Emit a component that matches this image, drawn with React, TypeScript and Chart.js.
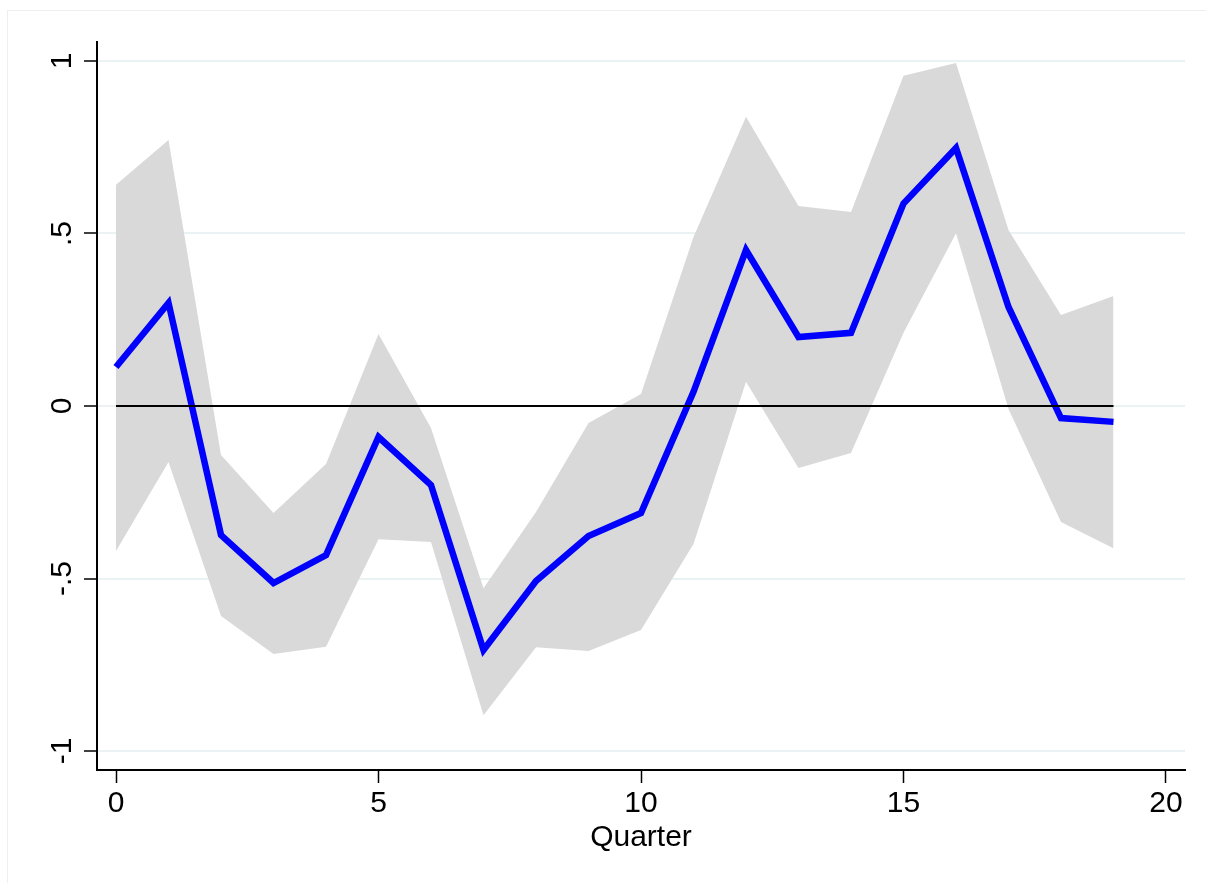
import React, { useEffect, useRef } from 'react';
import { Chart, registerables } from 'chart.js';

Chart.register(...registerables);

// quarter index
const QUARTERS = [0, 1, 2, 3, 4, 5, 6, 7, 8, 9, 10, 11, 12, 13, 14, 15, 16, 17, 18, 19];
// point estimate (blue line)
const ESTIMATE = [0.113, 0.299, -0.374, -0.513, -0.432, -0.090, -0.229, -0.707, -0.507, -0.377, -0.310, 0.041, 0.452, 0.200, 0.212, 0.587, 0.748, 0.287, -0.035, -0.046];
// confidence band
const UPPER = [0.641, 0.771, -0.142, -0.310, -0.168, 0.209, -0.064, -0.528, -0.307, -0.049, 0.035, 0.490, 0.838, 0.580, 0.562, 0.957, 0.994, 0.510, 0.264, 0.319];
const LOWER = [-0.420, -0.162, -0.609, -0.719, -0.698, -0.386, -0.394, -0.896, -0.699, -0.710, -0.649, -0.400, 0.070, -0.180, -0.136, 0.212, 0.501, -0.009, -0.336, -0.412];

const X_TICKS = [0, 5, 10, 15, 20];
const Y_TICKS = [-1, -0.5, 0, 0.5, 1];
const Y_LABELS = ['-1', '-.5', '0', '.5', '1'];

const FONT = '"Liberation Sans", Arial, Helvetica, sans-serif';
const FONT_SIZE = 30;

const yLabelPlugin = {
    id: 'yLabels',
    afterDraw(chart: Chart) {
        const { ctx } = chart;
        const y = chart.scales.y;
        ctx.save();
        ctx.fillStyle = '#000';
        ctx.font = `${FONT_SIZE}px ${FONT}`;
        ctx.textAlign = 'center';
        ctx.textBaseline = 'alphabetic';
        Y_TICKS.forEach((v, i) => {
            const py = y.getPixelForValue(v);
            ctx.save();
            ctx.translate(71, py);
            ctx.rotate(-Math.PI / 2);
            ctx.fillText(Y_LABELS[i], 0, 0);
            ctx.restore();
        });
        ctx.restore();
    }
};

export default function App() {
    const chartRef = useRef<HTMLCanvasElement>(null);
    const chartInstance = useRef<Chart | null>(null);

    useEffect(() => {
        if (chartInstance.current) chartInstance.current.destroy();
        if (!chartRef.current) return;
        const ctx = chartRef.current.getContext('2d');
        if (!ctx) return;

        const pts = (arr: number[]) => QUARTERS.map((q, i) => ({ x: q, y: arr[i] }));

        chartInstance.current = new Chart(ctx, {
            type: 'line',
            data: {
                datasets: [
                    {
                        label: 'zero',
                        data: [{ x: QUARTERS[0], y: 0 }, { x: QUARTERS[QUARTERS.length - 1], y: 0 }],
                        borderColor: '#000',
                        borderWidth: 2,
                        pointRadius: 0,
                        fill: false,
                        order: 0,
                    },
                    {
                        label: 'estimate',
                        data: pts(ESTIMATE),
                        borderColor: '#0000ff',
                        borderWidth: 6.5,
                        borderJoinStyle: 'miter',
                        borderCapStyle: 'butt',
                        pointRadius: 0,
                        tension: 0,
                        fill: false,
                        order: 1,
                    },
                    {
                        label: 'upper',
                        data: pts(UPPER),
                        borderWidth: 0,
                        borderColor: 'rgba(0,0,0,0)',
                        backgroundColor: '#d9d9d9',
                        pointRadius: 0,
                        tension: 0,
                        fill: '+1',
                        order: 3,
                    },
                    {
                        label: 'lower',
                        data: pts(LOWER),
                        borderWidth: 0,
                        borderColor: 'rgba(0,0,0,0)',
                        pointRadius: 0,
                        tension: 0,
                        fill: false,
                        order: 4,
                    },
                ]
            },
            options: {
                responsive: false,
                animation: false,
                layout: { padding: { top: 42, right: 21, left: 0, bottom: 0 } },
                plugins: {
                    legend: { display: false },
                    tooltip: { enabled: false },
                },
                scales: {
                    x: {
                        type: 'linear',
                        min: -0.362,
                        max: 20.362,
                        afterBuildTicks: (s: any) => { s.ticks = X_TICKS.map(v => ({ value: v })); },
                        afterFit: (s: any) => { s.height = 113; },
                        grid: { drawOnChartArea: false, drawTicks: true, tickLength: 13, tickColor: '#000', tickWidth: 1.5 },
                        border: { display: true, color: '#000', width: 2 },
                        ticks: { color: '#000', font: { family: FONT, size: FONT_SIZE }, padding: 3, maxRotation: 0, callback: (v: any) => String(v) },
                        title: { display: true, text: 'Quarter', color: '#000', font: { family: FONT, size: FONT_SIZE }, padding: { top: 0, bottom: 27 } },
                    },
                    y: {
                        type: 'linear',
                        min: -1.055,
                        max: 1.055,
                        afterBuildTicks: (s: any) => { s.ticks = Y_TICKS.map(v => ({ value: v })); },
                        afterFit: (s: any) => { s.width = 97; },
                        grid: { color: '#eaf2f3', lineWidth: 2, drawTicks: true, tickLength: 13, tickColor: '#000', tickWidth: 1.5 },
                        border: { display: true, color: '#000', width: 2 },
                        ticks: { display: false },
                    },
                }
            },
            plugins: [yLabelPlugin]
        });

        return () => { if (chartInstance.current) chartInstance.current.destroy(); };
    }, []);

    return (
        <div style={{ position: 'fixed', left: 0, top: 0, width: 1206, height: 883, background: '#fff', overflow: 'hidden' }}>
            <div style={{ position: 'absolute', left: 7, top: 10, width: 1300, height: 1000, borderLeft: '1px solid #eeeeee', borderTop: '1px solid #eeeeee' }} />
            <canvas ref={chartRef} width={1206} height={883} style={{ position: 'absolute', left: 0, top: 0, width: 1206, height: 883 }}></canvas>
        </div>
    );
}
